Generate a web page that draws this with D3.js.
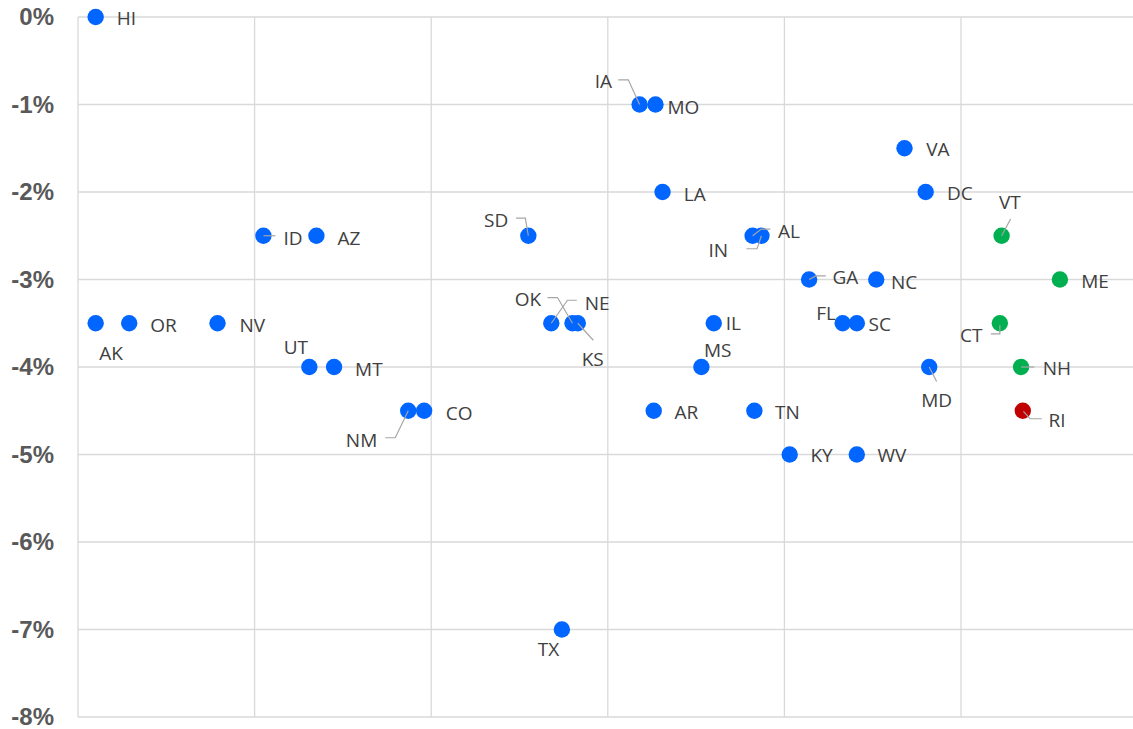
<!DOCTYPE html>
<html>
<head>
<meta charset="utf-8">
<script src="https://cdn.jsdelivr.net/npm/d3@7"></script>
<style>
  body { margin: 0; background: #fff; }
  svg { display: block; }
</style>
</head>
<body>
<svg id="chart" width="1133" height="729"></svg>
<script>
// state labels, x position (unlabelled axis), change in %, colour group
var states = ["HI","AK","OR","NV","ID","AZ","UT","MT","NM","CO",
              "SD","NE","OK","KS","TX","IA","MO","LA","AR","MS",
              "IL","AL","IN","TN","KY","WV","GA","NC","FL","SC",
              "VA","DC","MD","VT","ME","CT","NH","RI"];
var xVals = [0.10,0.10,0.29,0.79,1.05,1.35,1.31,1.45,1.87,1.96,
             2.55,2.68,2.80,2.83,2.74,3.18,3.27,3.31,3.26,3.53,
             3.60,3.82,3.87,3.83,4.03,4.41,4.14,4.52,4.33,4.41,
             4.68,4.80,4.82,5.23,5.56,5.22,5.34,5.35];
var yVals = [0,-3.5,-3.5,-3.5,-2.5,-2.5,-4,-4,-4.5,-4.5,
             -2.5,-3.5,-3.5,-3.5,-7,-1,-1,-2,-4.5,-4,
             -3.5,-2.5,-2.5,-4.5,-5,-5,-3,-3,-3.5,-3.5,
             -1.5,-2,-4,-2.5,-3,-3.5,-4,-4.5];
var groups = ["b","b","b","b","b","b","b","b","b","b",
              "b","b","b","b","b","b","b","b","b","b",
              "b","b","b","b","b","b","b","b","b","b",
              "b","b","b","g","g","g","g","r"];
var yTicks = [0,-1,-2,-3,-4,-5,-6,-7,-8];

var colors = { b: "#0066ff", g: "#00b050", r: "#c00000" };

// label placement relative to the dot (pixels), with optional leader line
var labelPos = {
  HI: {dx: 21, dy: 1}, AK: {dx: 15.5, dy: 29.5, a: "middle"},
  OR: {dx: 21, dy: 1.5}, NV: {dx: 22, dy: 1.5},
  ID: {dx: 20, dy: 2, lead: [[0,0],[12,0]]}, AZ: {dx: 21, dy: 2},
  UT: {dx: -13.5, dy: -20, a: "middle"}, MT: {dx: 21, dy: 2},
  NM: {dx: -31, dy: 29.7, a: "end", lead: [[-23,27],[-13,27],[0,0]]},
  CO: {dx: 21.7, dy: 2},
  SD: {dx: -20, dy: -15.3, a: "end", lead: [[-12.3,-17.7],[-3,-17.7],[0,0]]},
  OK: {dx: -31.3, dy: -24, a: "end", lead: [[-25,-25.7],[-15,-25.7],[0,0]]},
  NE: {dx: 33.5, dy: -20.3, lead: [[25.5,-23],[16.2,-23],[0,0]]},
  KS: {dx: 15, dy: 36, a: "middle", lead: [[0,0],[15.5,17]]},
  TX: {dx: -13.3, dy: 19.3, a: "middle"},
  IA: {dx: -27.6, dy: -23.3, a: "end", lead: [[-21.3,-24.7],[-11.3,-24.7],[0,0]]},
  MO: {dx: 12, dy: 3}, LA: {dx: 21.3, dy: 2}, AR: {dx: 20.7, dy: 1},
  MS: {dx: 16.3, dy: -17.3, a: "middle"}, IL: {dx: 12, dy: 0},
  IN: {dx: -33.4, dy: 14.7, a: "end", lead: [[-15,13],[-4.4,13],[0,0]]},
  AL: {dx: 25.3, dy: -5, lead: [[17.7,-6.7],[8.7,-6.7],[0,0]]},
  TN: {dx: 20.7, dy: 1}, KY: {dx: 20.7, dy: 1}, WV: {dx: 20.7, dy: 1},
  GA: {dx: 23.4, dy: -2, lead: [[0,0],[6.7,-3.6],[16.7,-3.6]]},
  NC: {dx: 14.7, dy: 2.7}, FL: {dx: -6.7, dy: -10.3, a: "end"},
  SC: {dx: 11.7, dy: 1}, VA: {dx: 21.7, dy: 1}, DC: {dx: 21.4, dy: 1.3},
  MD: {dx: 7.4, dy: 32.7, a: "middle", lead: [[0,0],[7.4,14.4]]},
  VT: {dx: 8.3, dy: -33.3, a: "middle", lead: [[9,-16.7],[0,0]]},
  ME: {dx: 21.4, dy: 1.7},
  CT: {dx: -17.4, dy: 12.4, a: "end", lead: [[-9,10.7],[0,10.7],[0,2]]},
  NH: {dx: 21.6, dy: 1, lead: [[0,0],[13.3,0]]},
  RI: {dx: 25.6, dy: 9, lead: [[0.6,0.7],[7.3,8],[19,8]]}
};

var data = states.map(function(s, i) {
  return { st: s, x: xVals[i], y: yVals[i], g: groups[i] };
});

var svg = d3.select("#chart");

var x = d3.scaleLinear().domain([0, 6]).range([78, 1137.6]);
var y = d3.scaleLinear().domain([-8, 0]).range([717, 17]);

// horizontal gridlines
svg.append("g")
  .selectAll("line")
  .data(yTicks)
  .join("line")
  .attr("x1", x(0)).attr("x2", 1133)
  .attr("y1", function(d) { return y(d); })
  .attr("y2", function(d) { return y(d); })
  .attr("stroke", "#d9d9d9")
  .attr("stroke-width", 1.3);

// vertical gridlines
svg.append("g")
  .selectAll("line")
  .data(d3.range(0, 6))
  .join("line")
  .attr("x1", function(d) { return x(d); })
  .attr("x2", function(d) { return x(d); })
  .attr("y1", y(0)).attr("y2", y(-8))
  .attr("stroke", "#d9d9d9")
  .attr("stroke-width", 1.3);

// y axis labels
var yAxis = d3.axisLeft(y)
  .tickValues(yTicks)
  .tickSize(0)
  .tickPadding(0)
  .tickFormat(function(d) { return d + "%"; });

var ya = svg.append("g")
  .attr("transform", "translate(54,0)")
  .call(yAxis);
ya.select(".domain").remove();
ya.selectAll("text")
  .attr("font-family", "'Liberation Sans', Arial, sans-serif")
  .attr("font-weight", "bold")
  .attr("font-size", 24)
  .attr("fill", "#595959");

// dots
svg.append("g")
  .selectAll("circle")
  .data(data)
  .join("circle")
  .attr("cx", function(d) { return x(d.x); })
  .attr("cy", function(d) { return y(d.y); })
  .attr("r", 8.2)
  .attr("fill", function(d) { return colors[d.g]; });

// leader lines
var line = d3.line();
svg.append("g")
  .selectAll("path")
  .data(data.filter(function(d) { return labelPos[d.st].lead; }))
  .join("path")
  .attr("d", function(d) {
    var cx = x(d.x), cy = y(d.y);
    return line(labelPos[d.st].lead.map(function(p) { return [cx + p[0], cy + p[1]]; }));
  })
  .attr("fill", "none")
  .attr("stroke", "#a6a6a6")
  .attr("stroke-width", 1.2);

// labels
svg.append("g")
  .selectAll("text")
  .data(data)
  .join("text")
  .attr("x", function(d) { return x(d.x) + labelPos[d.st].dx; })
  .attr("y", function(d) { return y(d.y) + labelPos[d.st].dy; })
  .attr("dy", "0.36em")
  .attr("text-anchor", function(d) { return labelPos[d.st].a || "start"; })
  .attr("font-family", "'Open Sans', 'Noto Sans', sans-serif")
  .attr("font-size", 19)
  .attr("fill", "#404040")
  .text(function(d) { return d.st; });
</script>
</body>
</html>
